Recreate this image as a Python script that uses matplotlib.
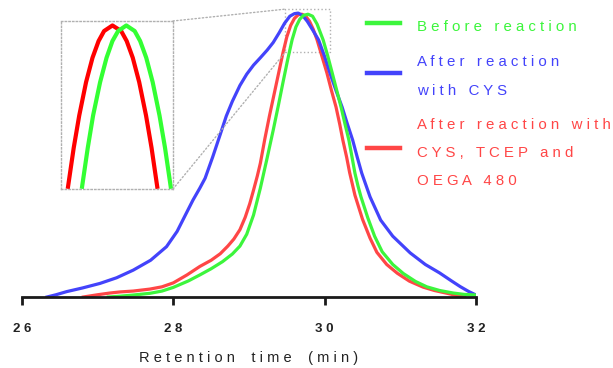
import matplotlib
matplotlib.use('Agg')
import matplotlib.pyplot as plt
from matplotlib.patches import Rectangle, ConnectionPatch

plt.rcParams['font.family'] = ['Liberation Sans', 'DejaVu Sans']

# Before reaction (green)
green_t = [27.14, 27.30, 27.47, 27.69, 27.85, 28.00, 28.20, 28.35, 28.50, 28.65,
           28.78, 28.88, 28.97, 29.06, 29.15, 29.24, 29.32, 29.39, 29.45, 29.51,
           29.57, 29.62, 29.67, 29.72, 29.78, 29.84, 29.90, 29.98, 30.04, 30.10,
           30.16, 30.22, 30.27, 30.32, 30.36, 30.40, 30.44, 30.48, 30.57, 30.66,
           30.76, 30.90, 31.04, 31.20, 31.35, 31.52, 31.70, 31.85, 32.00]
green_y = [0.000, 0.003, 0.007, 0.013, 0.021, 0.034, 0.057, 0.078, 0.100, 0.125,
           0.152, 0.180, 0.222, 0.290, 0.385, 0.492, 0.590, 0.680, 0.760, 0.838,
           0.910, 0.955, 0.982, 0.996, 1.000, 0.993, 0.965, 0.909, 0.853, 0.792,
           0.730, 0.668, 0.610, 0.555, 0.497, 0.438, 0.393, 0.354, 0.280, 0.215,
           0.160, 0.115, 0.083, 0.055, 0.036, 0.023, 0.014, 0.009, 0.007]

# After reaction with CYS (blue)
blue_t = [26.33, 26.45, 26.59, 26.80, 27.03, 27.25, 27.47, 27.70, 27.91, 28.05,
          28.15, 28.26, 28.35, 28.42, 28.52, 28.62, 28.70, 28.78, 28.88, 28.97,
          29.06, 29.15, 29.24, 29.32, 29.40, 29.47, 29.54, 29.60, 29.65, 29.71,
          29.77, 29.84, 29.92, 30.00, 30.07, 30.15, 30.23, 30.30, 30.37, 30.43,
          30.49, 30.60, 30.74, 30.90, 31.13, 31.33, 31.52, 31.67, 31.79, 31.90, 32.00]
blue_y = [0.000, 0.008, 0.019, 0.032, 0.048, 0.068, 0.095, 0.130, 0.178, 0.232,
          0.285, 0.343, 0.385, 0.420, 0.495, 0.575, 0.640, 0.692, 0.748, 0.788,
          0.820, 0.846, 0.873, 0.900, 0.935, 0.968, 0.993, 1.002, 1.004, 0.995,
          0.975, 0.945, 0.909, 0.850, 0.792, 0.730, 0.672, 0.612, 0.555, 0.495,
          0.438, 0.354, 0.272, 0.215, 0.156, 0.115, 0.085, 0.058, 0.037, 0.020, 0.007]

# After reaction with CYS, TCEP and OEGA 480 (red)
red_t = [26.81, 27.00, 27.16, 27.30, 27.47, 27.69, 27.85, 28.00, 28.18, 28.35,
         28.50, 28.62, 28.72, 28.80, 28.88, 28.95, 29.01, 29.06, 29.11, 29.15,
         29.21, 29.27, 29.33, 29.39, 29.45, 29.50, 29.55, 29.60, 29.65, 29.70,
         29.75, 29.80, 29.85, 29.90, 29.96, 30.03, 30.09, 30.15, 30.20, 30.24,
         30.29, 30.33, 30.40, 30.50, 30.60, 30.69, 30.82, 30.96, 31.12, 31.30,
         31.45, 31.62, 31.75, 31.85]
red_y = [0.000, 0.008, 0.014, 0.018, 0.021, 0.028, 0.036, 0.050, 0.078, 0.108,
         0.130, 0.153, 0.180, 0.205, 0.238, 0.282, 0.330, 0.378, 0.428, 0.473,
         0.560, 0.640, 0.715, 0.790, 0.865, 0.920, 0.960, 0.985, 0.998, 1.000,
         0.993, 0.975, 0.946, 0.909, 0.855, 0.792, 0.730, 0.672, 0.610, 0.555,
         0.495, 0.440, 0.360, 0.275, 0.208, 0.158, 0.115, 0.084, 0.056, 0.035,
         0.023, 0.013, 0.005, 0.000]

# magnified peak shown in the inset
inset_red_t = [29.517, 29.547, 29.576, 29.612, 29.646, 29.678, 29.707, 29.751,
               29.797, 29.826, 29.858, 29.892, 29.928, 29.957, 29.987]
inset_red_y = [0.859, 0.894, 0.923, 0.953, 0.975, 0.990, 0.999, 1.004,
               0.999, 0.990, 0.975, 0.953, 0.923, 0.894, 0.859]
inset_green_t = [29.591, 29.621, 29.649, 29.686, 29.720, 29.751, 29.781, 29.824,
                 29.868, 29.897, 29.929, 29.963, 29.999, 30.028, 30.058]
inset_green_y = [0.859, 0.894, 0.923, 0.953, 0.975, 0.990, 0.999, 1.004,
                 0.999, 0.990, 0.975, 0.953, 0.923, 0.894, 0.859]

xticks = [26, 28, 30, 32]
xtick_labels = ['2 6', '2 8', '3 0', '3 2']

GREEN = '#3cf53c'
BLUE = '#4343fb'
RED = '#ff4646'

fig = plt.figure(figsize=(6.13, 3.68), dpi=100)
ax = fig.add_axes([22 / 613, 1 - 297 / 368, 454 / 613, 289 / 368])

ax.plot(red_t, red_y, color=RED, lw=2.3, solid_joinstyle='round')
ax.plot(blue_t, blue_y, color=BLUE, lw=2.3, solid_joinstyle='round')
ax.plot(green_t, green_y, color=GREEN, lw=2.3, solid_joinstyle='round')

ax.set_xlim(26, 32)
ax.set_ylim(0, 1.022)
ax.set_yticks([])
for s in ['left', 'top', 'right']:
    ax.spines[s].set_visible(False)
ax.spines['bottom'].set_linewidth(2)
ax.spines['bottom'].set_color('#1a1a1a')
ax.set_xticks(xticks)
ax.set_xticklabels(xtick_labels, fontsize=9.5, fontweight='bold', color='#222222')
ax.tick_params(axis='x', direction='out', length=6, width=2, color='#1a1a1a', pad=13)
ax.set_xlabel('R e t e n t i o n    t i m e    ( m i n )', fontsize=10.5, color='#222222', labelpad=11)

# zoom box on main peak
box = Rectangle((29.48, 0.866), 0.59, 0.152, fill=False, ls=':', lw=1, ec='#b0b0b0', clip_on=False)
ax.add_patch(box)

# inset with the magnified peak
axin = fig.add_axes([61 / 613, 1 - 189 / 368, 112 / 613, 168 / 368])
axin.plot(inset_red_t, inset_red_y, color='#ff0000', lw=3, solid_joinstyle='round')
axin.plot(inset_green_t, inset_green_y, color='#33ff33', lw=3, solid_joinstyle='round')
axin.set_xlim(29.48, 30.07)
axin.set_ylim(0.857, 1.008)
axin.set_xticks([])
axin.set_yticks([])
for s in axin.spines.values():
    s.set_linestyle(':')
    s.set_linewidth(1)
    s.set_edgecolor('#b0b0b0')

for xy_in, xy_main in [((1, 1), (29.48, 1.018)), ((1, 0), (29.48, 0.866))]:
    con = ConnectionPatch(xyA=xy_in, coordsA=axin.transAxes, xyB=xy_main, coordsB=ax.transData,
                          ls=':', lw=1, color='#b0b0b0')
    fig.add_artist(con)

# legend drawn by hand to keep the original's layout
legend_rows = [
    (GREEN, 23, ['B e f o r e   r e a c t i o n'], [27]),
    (BLUE, 73, ['A f t e r   r e a c t i o n', 'w i t h   C Y S'], [62, 91]),
    (RED, 148, ['A f t e r   r e a c t i o n   w i t h', 'C Y S ,   T C E P   a n d', 'O E G A   4 8 0'],
     [125, 153, 181]),
]
for color, hy, lines, ys in legend_rows:
    fig.add_artist(plt.Line2D([367 / 613, 400 / 613], [1 - hy / 368, 1 - hy / 368], color=color, lw=3.2))
    for txt, ty in zip(lines, ys):
        fig.text(417 / 613, 1 - ty / 368, txt, color=color, fontsize=10.8, va='center', ha='left')

fig.savefig('out.png', dpi=100)
